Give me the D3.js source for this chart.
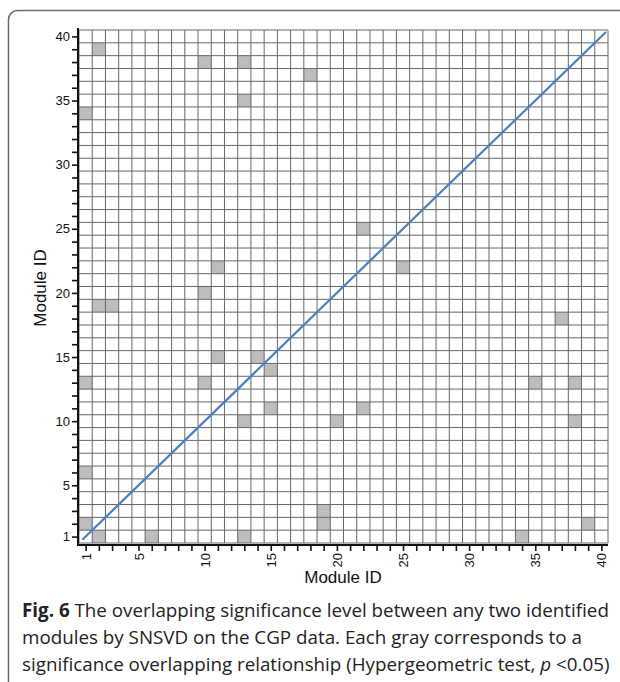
<!DOCTYPE html>
<html>
<head>
<meta charset="utf-8">
<script src="https://cdn.jsdelivr.net/npm/d3@7"></script>
<style>
  html, body { margin: 0; padding: 0; background: #fff; }
  svg { display: block; }
</style>
</head>
<body>
<svg id="chart" width="620" height="682"></svg>
<script>
// ---- Data ----
const moduleIds = d3.range(1, 41);               // categories on both axes: modules 1..40
const tickLabels = [1, 5, 10, 15, 20, 25, 30, 35, 40];
// significant overlap cells (x module, y module)
const cellX = [2, 10, 13, 18, 13, 1, 22, 11, 25, 10, 2, 3, 37, 11, 14, 15, 1, 10, 35, 38, 15, 22, 13, 20, 38, 1, 1, 19, 19, 39, 2, 6, 13, 34];
const cellY = [39, 38, 38, 37, 35, 34, 25, 22, 22, 20, 19, 19, 18, 15, 15, 14, 13, 13, 13, 13, 11, 11, 10, 10, 10, 6, 2, 3, 2, 2, 1, 1, 1, 1];
const diagonal = [0.75, 40.35];                  // reference line y = x
const xTitle = "Module ID";
const yTitle = "Module ID";

// ---- Layout ----
const svg = d3.select("#chart");
const x = d3.scaleLinear().domain([0.5, 40.5]).range([79, 608]);
const y = d3.scaleLinear().domain([0.5, 40.5]).range([543, 30]);

// frame (only top and left edges visible, rounded top-left corner)
svg.append("path")
  .attr("d", "M8.5,690 V19.5 A9,9 0 0 1 17.5,10.5 H630")
  .attr("fill", "none").attr("stroke", "#6a6a6a").attr("stroke-width", 1.5);

// gray cells
svg.append("g").selectAll("rect")
  .data(cellX.map((cx, i) => ({ cx, cy: cellY[i] })))
  .join("rect")
  .attr("x", d => x(d.cx - 0.5))
  .attr("y", d => y(d.cy + 0.5))
  .attr("width", d => x(d.cx + 0.5) - x(d.cx - 0.5))
  .attr("height", d => y(d.cy - 0.5) - y(d.cy + 0.5))
  .attr("fill", "#bdbdbd");

// grid
const edges = [0.5].concat(moduleIds.map(d => d + 0.5));
const grid = svg.append("g").attr("stroke", "#666").attr("stroke-width", 1);
grid.selectAll("line.v").data(edges).join("line").attr("class", "v")
  .attr("x1", d => x(d)).attr("x2", d => x(d))
  .attr("y1", y(0.5)).attr("y2", y(40.5));
grid.selectAll("line.h").data(edges).join("line").attr("class", "h")
  .attr("y1", d => y(d)).attr("y2", d => y(d))
  .attr("x1", x(0.5)).attr("x2", x(40.5));

// diagonal
svg.append("line")
  .attr("x1", x(diagonal[0])).attr("y1", y(diagonal[0]))
  .attr("x2", x(diagonal[1])).attr("y2", y(diagonal[1]))
  .attr("stroke", "#4a7ebf").attr("stroke-width", 2.2);

// axes
const font = "'Liberation Sans', Arial, sans-serif";
const yAxis = d3.axisLeft(y).tickValues(moduleIds).tickSize(6).tickPadding(2)
  .tickFormat(d => tickLabels.includes(d) ? d : "");
const gy = svg.append("g").attr("transform", "translate(78,0)").call(yAxis);
gy.select(".domain").remove();
gy.append("line").attr("x1", 0).attr("x2", 0).attr("y1", 28).attr("y2", 546)
  .attr("stroke", "#111").attr("stroke-width", 2);
gy.selectAll(".tick line").attr("stroke", "#111").attr("stroke-width", 1.6);
gy.selectAll(".tick text").attr("font-family", font).attr("font-size", 13).attr("fill", "#111");

const xAxis = d3.axisBottom(x).tickValues(moduleIds).tickSize(6).tickPadding(2)
  .tickFormat(d => tickLabels.includes(d) ? d : "");
const gx = svg.append("g").attr("transform", "translate(0,545)").call(xAxis);
gx.select(".domain").remove();
gx.append("line").attr("x1", 77).attr("x2", 608).attr("y1", 0).attr("y2", 0)
  .attr("stroke", "#111").attr("stroke-width", 2);
gx.selectAll(".tick line").attr("stroke", "#111").attr("stroke-width", 1.6);
gx.selectAll(".tick text")
  .attr("font-family", font).attr("font-size", 13).attr("fill", "#111")
  .attr("text-anchor", "end").attr("dy", "0.35em")
  .attr("transform", "translate(0,8) rotate(-90)")
  .attr("x", 0).attr("y", 0);

// axis titles
svg.append("text").attr("x", 343).attr("y", 583).attr("text-anchor", "middle")
  .attr("font-family", font).attr("font-size", 17).attr("fill", "#111").text(xTitle);
svg.append("text").attr("transform", "translate(46,288) rotate(-90)").attr("text-anchor", "middle")
  .attr("font-family", font).attr("font-size", 17).attr("fill", "#111").text(yTitle);

// caption
const capFont = "'Open Sans', 'Noto Sans', sans-serif";
const cap = svg.append("g").attr("font-family", capFont).attr("font-size", 18.8).attr("fill", "#222");
const l1 = cap.append("text").attr("x", 22).attr("y", 617);
l1.append("tspan").attr("font-weight", "bold").text("Fig. 6");
l1.append("tspan").text(" The overlapping significance level between any two identified");
cap.append("text").attr("x", 22).attr("y", 644)
  .text("modules by SNSVD on the CGP data. Each gray corresponds to a");
const l3 = cap.append("text").attr("x", 22).attr("y", 671);
l3.append("tspan").text("significance overlapping relationship (Hypergeometric test, ");
l3.append("tspan").attr("font-style", "italic").text("p");
l3.append("tspan").text(" <0.05)");
</script>
</body>
</html>
